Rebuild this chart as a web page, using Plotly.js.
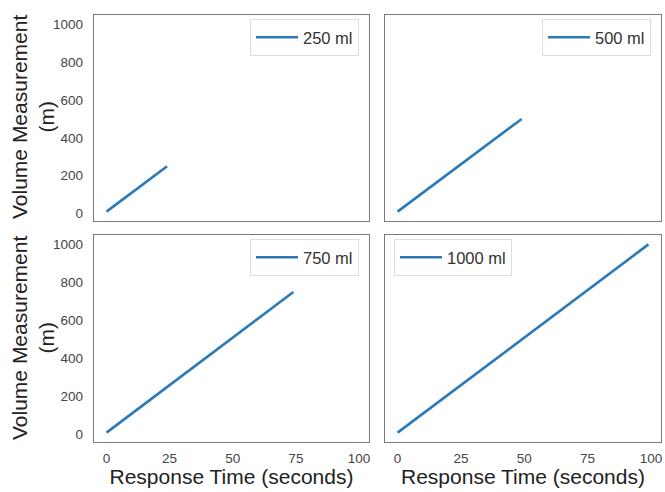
<!DOCTYPE html>
<html>
<head>
<meta charset="utf-8">
<script src="https://cdn.plot.ly/plotly-3.0.1.min.js"></script>
<style>html,body{margin:0;padding:0;background:#fff;}</style>
</head>
<body>
<div id="chart" style="width:665px;height:492px;"></div>
<script>
// Data (each series is a straight line)
const seriesNames = ["250 ml", "500 ml", "750 ml", "1000 ml"];
const time250 = [0, 24];
const vol250 = [10, 250];
const time500 = [0, 49];
const vol500 = [10, 500];
const time750 = [0, 74];
const vol750 = [10, 750];
const time1000 = [0, 99];
const vol1000 = [10, 1000];
const xTickVals = [0, 25, 50, 75, 100];
const yTickVals = [0, 200, 400, 600, 800, 1000];
const xTitle = "Response Time (seconds)";
const yTitle = "Volume Measurement<br>(m)";

const lineColor = "#2a7ab9";
const W = 665, H = 492;
const FONT = "Liberation Sans, Arial, sans-serif";
function fx(px) { return px / W; }
function fy(py) { return 1 - py / H; }

const times = [time250, time500, time750, time1000];
const vols = [vol250, vol500, vol750, vol1000];
const traces = times.map((t, i) => ({
  x: t, y: vols[i], type: "scatter", mode: "lines",
  name: seriesNames[i],
  line: {color: lineColor, width: 2.6},
  xaxis: i === 0 ? "x" : "x" + (i + 1),
  yaxis: i === 0 ? "y" : "y" + (i + 1),
  legend: i === 0 ? "legend" : "legend" + (i + 1)
}));

const xDomL = [fx(94), fx(369)], xDomR = [fx(385), fx(661)];
const yDomT = [fy(221), fy(15)], yDomB = [fy(442), fy(235)];

function xa(dom, anchor, labels) {
  return {
    domain: dom, anchor: anchor, range: [-4.95, 103.95],
    tickvals: xTickVals, showticklabels: labels,
    ticks: labels ? "outside" : "", ticklen: 3, tickcolor: "rgba(0,0,0,0)",
    tickfont: {family: FONT, size: 13.5, color: "#444"},
    showgrid: false, zeroline: false,
    showline: true, mirror: true, linecolor: "#7a7a7a", linewidth: 1.3,
    title: labels ? {text: xTitle, standoff: 2,
      font: {family: FONT, size: 21, color: "#222"}} : {text: ""}
  };
}
function ya(dom, anchor, labels) {
  return {
    domain: dom, anchor: anchor, range: [-39.5, 1049.5],
    tickvals: yTickVals, showticklabels: labels,
    ticks: labels ? "outside" : "", ticklen: 7, tickcolor: "rgba(0,0,0,0)",
    tickfont: {family: FONT, size: 13.5, color: "#444"},
    showgrid: false, zeroline: false,
    showline: true, mirror: true, linecolor: "#7a7a7a", linewidth: 1.3,
    title: {text: ""}
  };
}
function lg(x, y, xanchor) {
  return {
    x: x, y: y, xanchor: xanchor, yanchor: "top",
    bgcolor: "#ffffff", bordercolor: "#dddddd", borderwidth: 1,
    font: {family: FONT, size: 16.5, color: "#333"},
    itemwidth: 42, tracegroupgap: 0
  };
}
function yTitleAnn(yCenterPx) {
  return {
    text: yTitle, textangle: -90, showarrow: false,
    xref: "paper", yref: "paper", x: fx(33), y: fy(yCenterPx),
    xanchor: "center", yanchor: "middle",
    font: {family: FONT, size: 21, color: "#222"}
  };
}

const layout = {
  width: W, height: H,
  margin: {l: 0, r: 0, t: 0, b: 0},
  paper_bgcolor: "#fff", plot_bgcolor: "#fff",
  showlegend: true,
  xaxis: xa(xDomL, "y", false),
  yaxis: ya(yDomT, "x", true),
  xaxis2: xa(xDomR, "y2", false),
  yaxis2: ya(yDomT, "x2", false),
  xaxis3: xa(xDomL, "y3", true),
  yaxis3: ya(yDomB, "x3", true),
  xaxis4: xa(xDomR, "y4", true),
  yaxis4: ya(yDomB, "x4", false),
  legend: lg(fx(359), fy(19), "right"),
  legend2: lg(fx(651), fy(19), "right"),
  legend3: lg(fx(359), fy(239), "right"),
  legend4: lg(fx(394), fy(239), "left"),
  annotations: [yTitleAnn(117), yTitleAnn(338)]
};

Plotly.newPlot("chart", traces, layout, {staticPlot: true, displayModeBar: false});
</script>
</body>
</html>
